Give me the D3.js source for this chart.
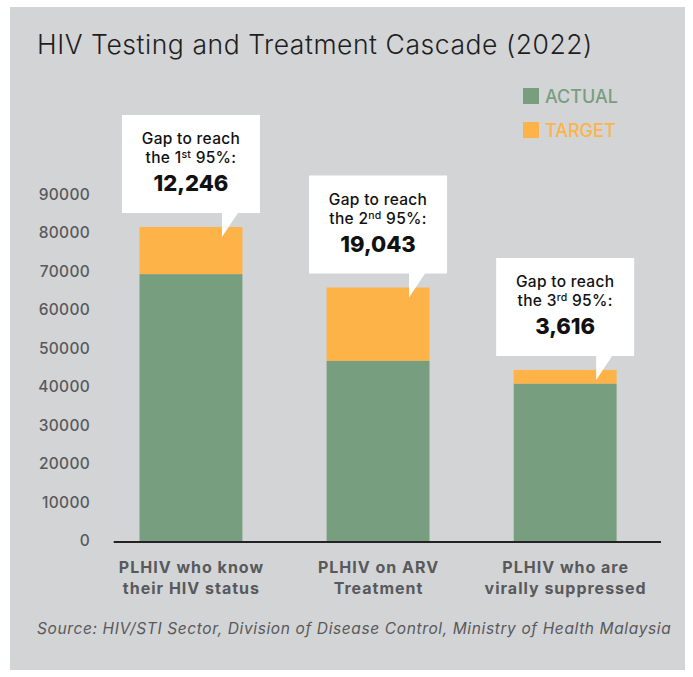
<!DOCTYPE html>
<html>
<head>
<meta charset="utf-8">
<script src="https://cdn.jsdelivr.net/npm/d3@7"></script>
<style>
  html, body { margin: 0; padding: 0; background: #ffffff; }
  svg { display: block; }
</style>
</head>
<body>
<svg id="chart" width="693" height="677"></svg>
<script>
// ---- Data ----
const categories = [
  ["PLHIV who know", "their HIV status"],
  ["PLHIV on ARV", "Treatment"],
  ["PLHIV who are", "virally suppressed"]
];
const actualValues = [69264, 46758, 40804];
const targetValues = [81510, 65801, 44420];
const gapLabels = ["12,246", "19,043", "3,616"];
const ordinals = [["1", "st"], ["2", "nd"], ["3", "rd"]];
const yTicks = [0, 10000, 20000, 30000, 40000, 50000, 60000, 70000, 80000, 90000];
const legendItems = ["ACTUAL", "TARGET"];

// ---- Styles ----
const GREEN = "#789e80";
const ORANGE = "#fdb347";
const TXT = "#58595b";
const FONT = "Inter, 'Noto Sans', sans-serif";

const svg = d3.select("#chart");

// panel background
svg.append("rect")
  .attr("x", 10).attr("y", 7).attr("width", 675).attr("height", 663)
  .attr("fill", "#d3d4d6");

// title
svg.append("text")
  .attr("x", 37).attr("y", 54)
  .attr("font-family", FONT).attr("font-weight", 300)
  .attr("font-size", 26.5).attr("letter-spacing", 0.55).attr("fill", "#1e1e1e")
  .text("HIV Testing and Treatment Cascade (2022)");

// scales
const x = d3.scaleBand()
  .domain(d3.range(categories.length))
  .range([97.4, 658.7])
  .paddingInner(0.45)
  .paddingOuter(0.225);

const y = d3.scaleLinear()
  .domain([0, 90000])
  .range([541, 194.3]);

// y axis (labels only)
const yAxis = d3.axisLeft(y).tickValues(yTicks).tickSize(0).tickPadding(0)
  .tickFormat(d3.format("d"));
const yg = svg.append("g").attr("transform", "translate(90,0)").call(yAxis);
yg.select(".domain").remove();
yg.selectAll("text")
  .attr("font-family", FONT).attr("font-weight", 500)
  .attr("font-size", 15.5).attr("letter-spacing", 0.3).attr("fill", TXT).attr("dy", "0.32em");

// bars
const data = categories.map((c, i) => ({ i, actual: actualValues[i], target: targetValues[i] }));

svg.append("g").selectAll("rect.target").data(data).join("rect")
  .attr("x", d => x(d.i)).attr("width", x.bandwidth())
  .attr("y", d => y(d.target)).attr("height", d => y(d.actual) - y(d.target))
  .attr("fill", ORANGE);

svg.append("g").selectAll("rect.actual").data(data).join("rect")
  .attr("x", d => x(d.i)).attr("width", x.bandwidth())
  .attr("y", d => y(d.actual)).attr("height", d => y(0) - y(d.actual))
  .attr("fill", GREEN);

// baseline
svg.append("line")
  .attr("x1", 113.7).attr("x2", 661)
  .attr("y1", y(0) + 1).attr("y2", y(0) + 1)
  .attr("stroke", "#232323").attr("stroke-width", 2.2);

// x labels
const xl = svg.append("g");
categories.forEach((lines, i) => {
  const cx = x(i) + x.bandwidth() / 2;
  lines.forEach((ln, j) => {
    xl.append("text")
      .attr("x", cx + 0.5).attr("y", 573 + j * 21)
      .attr("text-anchor", "middle")
      .attr("font-family", FONT).attr("font-weight", 700)
      .attr("font-size", 16).attr("letter-spacing", 1.0).attr("fill", TXT)
      .text(ln);
  });
});

// callouts
const BOX_W = 138, BOX_H = 98;
const callouts = svg.append("g");
data.forEach(d => {
  const cx = x(d.i) + x.bandwidth() / 2;
  const top = y(d.target);
  const bottom = top - 14;
  const boxTop = bottom - BOX_H;
  const left = cx - BOX_W / 2, right = cx + BOX_W / 2;
  const pL = cx + 31, pR = cx + 47, tip = top + 10;
  const p = d3.path();
  p.moveTo(left, boxTop);
  p.lineTo(right, boxTop);
  p.lineTo(right, bottom);
  p.lineTo(pR, bottom);
  p.lineTo(pL, tip);
  p.lineTo(pL, bottom);
  p.lineTo(left, bottom);
  p.closePath();
  callouts.append("path").attr("d", p.toString()).attr("fill", "#ffffff");

  callouts.append("text")
    .attr("x", cx).attr("y", boxTop + 29)
    .attr("text-anchor", "middle")
    .attr("font-family", FONT).attr("font-weight", 500)
    .attr("font-size", 15.5).attr("letter-spacing", 0.3).attr("fill", "#111")
    .text("Gap to reach");
  const t2 = callouts.append("text")
    .attr("x", cx).attr("y", boxTop + 48)
    .attr("text-anchor", "middle")
    .attr("font-family", FONT).attr("font-weight", 500)
    .attr("font-size", 15.5).attr("letter-spacing", 0.3).attr("fill", "#111");
  t2.append("tspan").text("the " + ordinals[d.i][0]);
  t2.append("tspan").attr("font-size", 10.5).attr("dy", -5).text(ordinals[d.i][1]);
  t2.append("tspan").attr("dy", 5).text(" 95%:");
  callouts.append("text")
    .attr("x", cx).attr("y", boxTop + 76)
    .attr("text-anchor", "middle")
    .attr("font-family", FONT).attr("font-weight", 800)
    .attr("font-size", 22).attr("fill", "#111")
    .text(gapLabels[d.i]);
});

// legend
const legColors = [GREEN, ORANGE];
legendItems.forEach((name, i) => {
  svg.append("rect")
    .attr("x", 523).attr("y", 88 + i * 34).attr("width", 16).attr("height", 16)
    .attr("fill", legColors[i]);
  svg.append("text")
    .attr("x", 545).attr("y", 103 + i * 34)
    .attr("font-family", FONT).attr("font-weight", 500)
    .attr("font-size", 18).attr("fill", legColors[i])
    .text(name);
});

// source
svg.append("text")
  .attr("x", 37).attr("y", 634)
  .attr("font-family", FONT).attr("font-style", "italic")
  .attr("font-size", 15.5).attr("letter-spacing", 0.62).attr("fill", TXT)
  .text("Source: HIV/STI Sector, Division of Disease Control, Ministry of Health Malaysia");
</script>
</body>
</html>
